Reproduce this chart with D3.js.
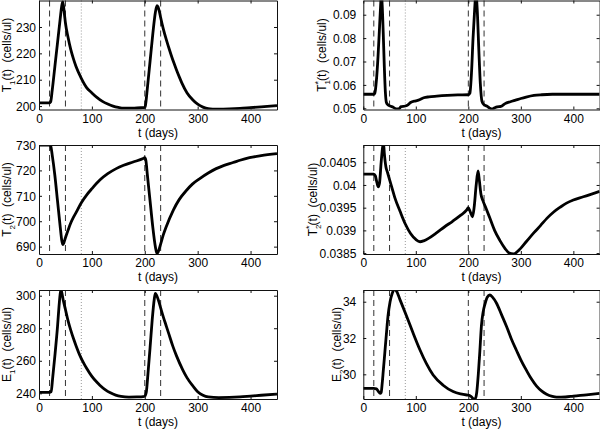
<!DOCTYPE html>
<html><head><meta charset="utf-8">
<script src="https://cdn.jsdelivr.net/npm/d3@7"></script>
<style>
body{margin:0;background:#fff}
svg{display:block}
text{font-family:"Liberation Sans",Arial,Helvetica,sans-serif;fill:#000}
</style>
</head><body>
<svg id="chart" width="600" height="429"></svg>
<script>
// ---------- data ----------
const xTickVals = [0, 100, 200, 300, 400];
const dashedDays = [20, 50, 200, 230];
const dottedDays = [80];

const T1_t = [0,20,22,25,30,35,40,43,45,48,50,55,60,65,70,80,90,100,110,120,130,140,150,160,180,195,200,201,205,210,215,220,223,225,228,230,235,241,245,250,255,260,266,270,280,291,300,310,320,330,340,360,380,400,420,450];
const T1_v = [201.2,201.2,201.6,206,215,224,233,238,239.6,235,231.5,226,221.5,218,215,210.5,207,205,203.2,201.8,200.8,200,199.5,199.2,199.2,199.4,199.5,200,207,217,227,235.5,238.1,237.6,235.5,233.6,229.3,225,222.4,219.3,216.4,213.7,210.7,208.8,205,202.3,200.7,199.6,199,198.85,198.8,198.9,199.1,199.4,199.7,200.2];
const T1_ticks = [200, 210, 220, 230];

const T1s_t = [0,20,22,25,28,31,33,34.5,36,38,40,42,44,47,51,57,63,67,72,80,85,90,100,105,115,125,140,160,180,200,203,206,209,212,214.5,217,220,223,226,230,235,240,245,250,255,262,270,280,290,300,310,325,340,360,450];
const T1s_v = [0.056,0.056,0.0565,0.062,0.072,0.085,0.094,0.099,0.094,0.082,0.068,0.057,0.0525,0.0515,0.051,0.0505,0.0497,0.0497,0.0507,0.051,0.0515,0.0525,0.0532,0.0535,0.0545,0.0549,0.0552,0.0555,0.0557,0.0558,0.0565,0.065,0.08,0.092,0.099,0.092,0.075,0.06,0.053,0.0515,0.051,0.0502,0.0497,0.0502,0.0506,0.0508,0.052,0.0528,0.0535,0.0542,0.0548,0.0555,0.0558,0.056,0.056];
const T1s_ticks = [0.05, 0.06, 0.07, 0.08, 0.09];

const T2_t = [0,20,22,25,30,35,40,43,45,47,50,55,60,65,70,80,90,100,115,130,146,160,178,197,200,202,205,210,215,220,223,225,230,235,240,254,265,279,290,304,320,335,350,367,380,398,420,450];
const T2_v = [730,730,729.8,726,718,708,698,692.5,690.8,691.5,693.5,696.5,699.3,701.5,703.4,707.3,710.3,712.8,716.2,718.7,720.7,722,723.3,724.7,725,724,718,708,698,690,687.3,687.8,691,694.6,697.5,704.4,708.5,712.2,714.6,716.8,719,720.7,722,723.1,724,725,725.8,726.6];
const T2_ticks = [690, 700, 710, 720, 730];

const T2s_t = [0,20,23,26,28.5,31,34,37,38.5,40,43,46,50,55,60,70,80,90,100,108,115,125,140,155,170,185,197,200,204,208,211,215,218.5,221,224,228,235,241,250,260,270,278,286,295,311,325,337,350,362,375,387,400,419,450];
const T2s_v = [0.04024,0.04024,0.0402,0.04005,0.03996,0.04005,0.0405,0.04085,0.04092,0.0407,0.0404,0.04028,0.04012,0.03992,0.03972,0.03942,0.03914,0.03893,0.0388,0.03875,0.03877,0.03883,0.03895,0.03908,0.0392,0.03933,0.03945,0.0395,0.0394,0.0393,0.0395,0.04,0.04031,0.0401,0.0398,0.03965,0.03945,0.03927,0.039,0.03878,0.0386,0.0385,0.03848,0.03855,0.03876,0.03895,0.0391,0.03927,0.0394,0.03951,0.0396,0.03967,0.03974,0.03986];
const T2s_ticks = [0.0385, 0.039, 0.0395, 0.04, 0.0405];

const E1_t = [0,20,23,26,30,35,38,40,41.5,43,46,50,55,60,65,70,77,85,90,100,110,115,125,135,145,155,170,185,197,200,203,206,210,214,218,220,222,226,230,235,240,245,253,260,272,280,291,300,310,320,340,360,380,400,420,450];
const E1_v = [240.6,240.6,241,250,263,281,294,301,303.5,302,297,291.5,284.5,278.8,273.8,269.3,263.5,258.2,255.4,250.4,246.6,245,242.3,240.3,238.9,238.1,237.7,237.8,238,238.3,241,252,268,285,298,301.4,300.5,297,292.5,287,282,277,269,263,254.3,249.5,244.5,241,238.8,237.8,237.4,237.5,237.8,238.3,238.8,239.5];
const E1_ticks = [240, 260, 280, 300];

const E2_t = [0,20,25,29,32,34,36,38,41,44.4,47,51,55,59,63,70,82.5,95,108,120,133,152,171,185,197,200,205,210,213,216,219,222,225,228,232,236,241,246,254,263,273,282,292,300,311,320,330,340,349,360,368,385,400,425,450];
const E2_v = [29.23,29.23,29.2,29.05,28.95,29.0,29.5,30.17,31.2,32.37,33.2,34.0,34.45,34.68,34.6,34.1,33.2,32.26,31.34,30.6,29.96,29.4,29.05,28.92,28.86,28.85,28.78,28.65,28.64,29.0,30.0,31.3,32.7,33.4,33.9,34.25,34.37,34.25,33.9,33.3,32.62,31.95,31.3,30.8,30.2,29.75,29.35,29.07,28.9,28.78,28.74,28.75,28.8,28.87,28.95];
const E2_ticks = [30, 32, 34];

// ---------- layout ----------
const svg = d3.select("#chart");
const cols = [{x0: 39, x1: 277, tickGap: 3}, {x0: 363.3, x1: 599.6, tickGap: 7}];
const rows = [{y0: 0.5, y1: 109.5}, {y0: 145, y1: 254}, {y0: 290, y1: 399}];

const panels = [
  {col:0,row:0,t:T1_t,v:T1_v,ticks:T1_ticks,dom:[198.7,240.05],lab:{sub:"1",sup:null},labX:11},
  {col:1,row:0,t:T1s_t,v:T1s_v,ticks:T1s_ticks,dom:[0.04949,0.09607],lab:{sub:"1",sup:"*"},labX:326},
  {col:0,row:1,t:T2_t,v:T2_v,ticks:T2_ticks,dom:[687.1,730],lab:{sub:"2",sup:null},labX:11},
  {col:1,row:1,t:T2s_t,v:T2s_v,ticks:T2s_ticks,dom:[0.03848,0.04088],lab:{sub:"2",sup:"*"},labX:317},
  {col:0,row:2,t:E1_t,v:E1_v,ticks:E1_ticks,dom:[236.5,303.5],lab:{main:"E",sub:"1",sup:null},labX:11},
  {col:1,row:2,t:E2_t,v:E2_v,ticks:E2_ticks,dom:[28.64,34.645],lab:{main:"E",sub:"2",sup:null},labX:341}
];

const defs = svg.append("defs");

panels.forEach((p, i) => {
  const c = cols[p.col], r = rows[p.row];
  const x = d3.scaleLinear().domain([0, 450]).range([c.x0, c.x1]);
  const y = d3.scaleLinear().domain(p.dom).range([r.y1, r.y0]);
  const g = svg.append("g");

  defs.append("clipPath").attr("id", "clip" + i)
    .append("rect").attr("x", c.x0).attr("y", r.y0).attr("width", c.x1 - c.x0).attr("height", r.y1 - r.y0);

  // reference lines
  g.selectAll(".dash").data(dashedDays).join("line")
    .attr("x1", d => x(d)).attr("x2", d => x(d))
    .attr("y1", r.y0).attr("y2", r.y1)
    .attr("stroke", "#333").attr("stroke-width", 1).attr("stroke-dasharray", "6,4");
  g.selectAll(".dot").data(dottedDays).join("line")
    .attr("x1", d => x(d)).attr("x2", d => x(d))
    .attr("y1", r.y0).attr("y2", r.y1)
    .attr("stroke", "#999").attr("stroke-width", 1).attr("stroke-dasharray", "1,2");

  // curve
  const pts = p.t.map((t, k) => [t, p.v[k]]);
  g.append("path").datum(pts)
    .attr("clip-path", `url(#clip${i})`)
    .attr("fill", "none").attr("stroke", "#000").attr("stroke-width", 2.8)
    .attr("stroke-linejoin", "round")
    .attr("d", d3.line().x(d => x(d[0])).y(d => y(d[1])).curve(d3.curveMonotoneX));

  // axes (box with inward ticks on all sides)
  const tl = 3;
  const axB = d3.axisBottom(x).tickValues(xTickVals).tickSizeInner(-tl).tickSizeOuter(0).tickFormat(d3.format("d"));
  const axT = d3.axisTop(x).tickValues(xTickVals).tickSizeInner(-tl).tickSizeOuter(0).tickFormat("");
  const fmt = d => String(+d.toPrecision(6));
  const axL = d3.axisLeft(y).tickValues(p.ticks).tickSizeInner(-tl).tickSizeOuter(0).tickPadding(c.tickGap).tickFormat(fmt);
  const axR = d3.axisRight(y).tickValues(p.ticks).tickSizeInner(-tl).tickSizeOuter(0).tickFormat("");

  const gb = g.append("g").attr("transform", `translate(0,${r.y1})`).call(axB);
  const gt = g.append("g").attr("transform", `translate(0,${r.y0})`).call(axT);
  const gl = g.append("g").attr("transform", `translate(${c.x0},0)`).call(axL);
  const gr = g.append("g").attr("transform", `translate(${c.x1},0)`).call(axR);
  [gb, gt, gl, gr].forEach(a => {
    a.select(".domain").attr("stroke", "#111").attr("stroke-width", 1);
    a.selectAll(".tick line").attr("stroke", "#111");
    a.selectAll("text").attr("font-size", 12).attr("font-family", '"Liberation Sans",Arial,sans-serif').attr("fill", "#000");
  });
  gb.selectAll(".tick text").attr("y", 13).attr("dy", "0");
  gl.selectAll(".tick text").attr("dy", "0.35em");

  // x label
  g.append("text").attr("x", (c.x0 + c.x1) / 2).attr("y", r.y1 + 27)
    .attr("text-anchor", "middle").attr("font-size", 12).text("t (days)");

  // y label
  const cy = (r.y0 + r.y1) / 2;
  const yl = g.append("text")
    .attr("transform", `translate(${p.labX},${cy}) rotate(-90)`)
    .attr("text-anchor", "middle").attr("font-size", 12)
    .style("white-space", "pre");
  yl.append("tspan").text(p.lab.main || "T");
  yl.append("tspan").attr("font-size", 8).attr("dy", 3.5).text(p.lab.sub);
  if (p.lab.sup) {
    yl.append("tspan").attr("font-size", 9).attr("dx", -4.5).attr("dy", -8.5).text(p.lab.sup);
    yl.append("tspan").attr("dy", 5).text("(t)  (cells/ul)");
  } else {
    yl.append("tspan").attr("dy", -3.5).text("(t)  (cells/ul)");
  }
});
</script>
</body></html>
